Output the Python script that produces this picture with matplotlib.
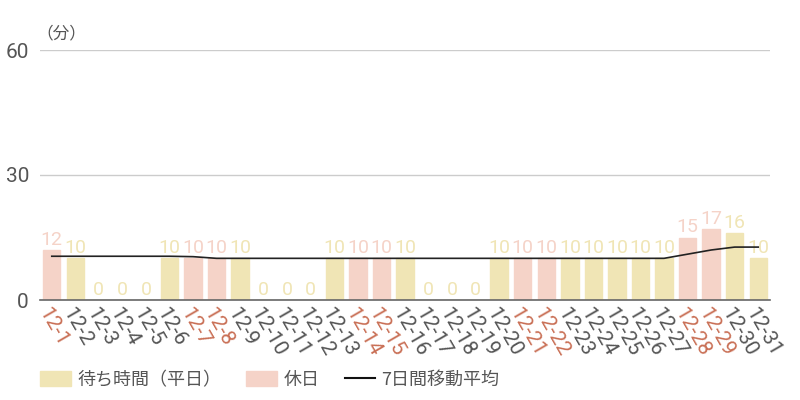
import matplotlib
matplotlib.use("Agg")
import matplotlib.pyplot as plt
from matplotlib.patches import Patch
from matplotlib.lines import Line2D

plt.rcParams['font.family'] = ['Noto Sans CJK JP', 'DejaVu Sans']

days = [f"12-{d}" for d in range(1, 32)]
values = [12, 10, 0, 0, 0, 10, 10, 10, 10, 0, 0, 0, 10, 10, 10, 10, 0, 0, 0,
          10, 10, 10, 10, 10, 10, 10, 10, 15, 17, 16, 10]
holiday = [1, 0, 0, 0, 0, 0, 1, 1, 0, 0, 0, 0, 0, 1, 1, 0, 0, 0, 0,
           0, 1, 1, 0, 0, 0, 0, 0, 1, 1, 0, 0]
moving_avg = [10.5, 10.5, 10.5, 10.5, 10.5, 10.5, 10.4, 10.0, 10.0, 10.0, 10.0,
              10.0, 10.0, 10.0, 10.0, 10.0, 10.0, 10.0, 10.0, 10.0, 10.0, 10.0,
              10.0, 10.0, 10.0, 10.0, 10.0, 11.0, 12.0, 12.7, 12.7]
yticks = [0, 30, 60]

YEL = '#F0E5B5'
PINK = '#F5D3C8'
RED_TXT = '#C96F55'
GRAY_TXT = '#555555'

fig = plt.figure(figsize=(8, 4), dpi=100)
ax = fig.add_axes([0.05, 0.25, 0.9125, 0.625])

x = list(range(len(days)))
colors = [PINK if h else YEL for h in holiday]
ax.bar(x, values, width=0.74, color=colors, edgecolor=colors, linewidth=1, zorder=2)
for xi, v, c in zip(x, values, colors):
    ax.text(xi, v + 0.3, str(v), ha='center', va='bottom', fontsize=14,
            color=c, fontfamily=['Roboto', 'DejaVu Sans'], zorder=3)

ax.plot(x, moving_avg, color='#222222', linewidth=1.2, zorder=4)

ax.set_xlim(-0.5, len(days) - 0.5)
ax.set_ylim(0, 60)
ax.set_yticks(yticks)
ax.set_yticklabels([str(t) for t in yticks], fontsize=15, color=GRAY_TXT,
                   fontfamily=['Roboto', 'DejaVu Sans'])
ax.yaxis.grid(True, color='#CCCCCC', linewidth=1, zorder=0)
ax.set_axisbelow(True)
ax.tick_params(axis='y', length=0, pad=8)
for s in ['top', 'right', 'left']:
    ax.spines[s].set_visible(False)
ax.spines['bottom'].set_color('#666666')
ax.spines['bottom'].set_linewidth(1.2)
ax.spines['bottom'].set_zorder(5)

ax.set_xticks(x)
ax.set_xticklabels(days, rotation=-60, ha='left', va='top', rotation_mode='anchor',
                   fontsize=15, fontfamily=['Roboto', 'DejaVu Sans'])
for lbl, h in zip(ax.get_xticklabels(), holiday):
    lbl.set_color(RED_TXT if h else GRAY_TXT)
ax.tick_params(axis='x', length=0, pad=3)

fig.text(0.045, 0.915, '（分）', fontsize=12, color=GRAY_TXT, ha='left', va='center')

handles = [Patch(facecolor=YEL, edgecolor=YEL, label='待ち時間（平日）'),
           Patch(facecolor=PINK, edgecolor=PINK, label='休日'),
           Line2D([0], [0], color='#111111', linewidth=1.5, label='7日間移動平均')]
fig.legend(handles=handles, loc='center left', bbox_to_anchor=(0.05, 0.05), ncol=3,
           frameon=False, fontsize=13, handlelength=1.7, handleheight=0.9,
           columnspacing=1.4, handletextpad=0.35, labelcolor=GRAY_TXT,
           borderaxespad=0, borderpad=0)

fig.savefig('out.png', dpi=100)
